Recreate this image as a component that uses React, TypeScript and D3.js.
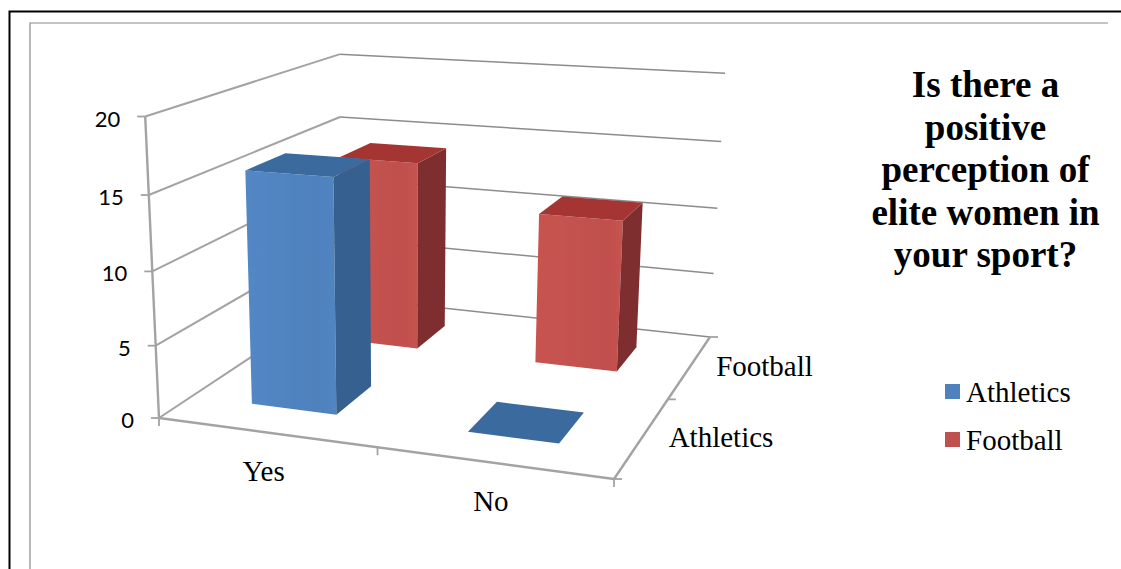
import React from "react";
import * as d3 from "d3";

const categories = ["Yes", "No"];
const seriesNames = ["Athletics", "Football"];
const athletics = [16, 0];
const football = [14, 11];
const valueTicks = [0, 5, 10, 15, 20];
const titleLines = ["Is there a", "positive", "perception of", "elite women in", "your sport?"];
const seriesColors = [
  { front: "#4f81bd", side: "#34618f", top: "#3a6a9e" },
  { front: "#c0504d", side: "#7e2f2d", top: "#a53633" },
];

type P = [number, number];
// Camera: projected floor corners, the vanishing point of the vertical axis and the depth term per value.
const floorCorners: P[] = [[159, 418], [614, 479], [710, 337], [342, 297]];
const verticalVanish: P = [402, 5731];
const zScale = d3.scaleLinear().domain([0, 20]).range([0, -0.0537]);
const heightSkew = 0.025;

function homography(c: P[]) {
  const [[x0, y0], [x1, y1], [x2, y2], [x3, y3]] = c;
  const dx1 = x1 - x2, dx2 = x3 - x2, sx = x0 - x1 + x2 - x3;
  const dy1 = y1 - y2, dy2 = y3 - y2, sy = y0 - y1 + y2 - y3;
  const det = dx1 * dy2 - dx2 * dy1;
  const g = (sx * dy2 - dx2 * sy) / det;
  const h = (dx1 * sy - sx * dy1) / det;
  return (u: number, v: number) => {
    const w = g * u + h * v + 1;
    return {
      w,
      x: ((x1 - x0 + g * x1) * u + (x3 - x0 + h * x3) * v + x0) / w,
      y: ((y1 - y0 + g * y1) * u + (y3 - y0 + h * y3) * v + y0) / w,
    };
  };
}
const floorH = homography(floorCorners);
const uBand = d3.scaleBand<string>().domain(categories).range([0, 1]);
const vBand = d3.scaleBand<string>().domain(seriesNames).range([0, 1]);

function project(u: number, v: number, value: number): P {
  const f = floorH(u, v);
  const c = zScale(value) * (1 + heightSkew * u);
  const d = f.w + c;
  return [(f.x * f.w + c * verticalVanish[0]) / d, (f.y * f.w + c * verticalVanish[1]) / d];
}
const line = d3.line<P>();
const poly = (pts: P[]) => line(pts) + "Z";

const barFrac = 0.2;
const depthFrac = 0.2;
const barOffset = -0.005;

function bars() {
  const out: React.ReactNode[] = [];
  // back series first so the nearer one overlaps it
  [1, 0].forEach((s) => {
    const values = s === 0 ? athletics : football;
    categories.forEach((cat, i) => {
      const uc = uBand(cat)! + uBand.bandwidth() / 2 + barOffset;
      const vc = vBand(seriesNames[s])! + vBand.bandwidth() / 2;
      const u0 = uc - barFrac / 2, u1 = uc + barFrac / 2;
      const v0 = vc - depthFrac / 2, v1 = vc + depthFrac / 2;
      const val = values[i];
      const c = seriesColors[s];
      const key = `${s}-${i}`;
      if (val > 0) {
        out.push(<path key={key + "f"} d={poly([project(u0, v0, 0), project(u1, v0, 0), project(u1, v0, val), project(u0, v0, val)])} fill={`url(#front${s})`} />);
        out.push(<path key={key + "s"} d={poly([project(u1, v0, 0), project(u1, v1, 0), project(u1, v1, val), project(u1, v0, val)])} fill={c.side} />);
      }
      out.push(<path key={key + "t"} d={poly([project(u0, v0, val), project(u1, v0, val), project(u1, v1, val), project(u0, v1, val)])} fill={c.top} />);
    });
  });
  return out;
}

const GRAY = "#a3a3a3";

export default function App() {
  return (
    <svg width={1121} height={569} style={{ position: "absolute", left: 0, top: 0, background: "#fff" }}>
      <defs>
        <filter id="soft" x="-5%" y="-5%" width="110%" height="110%"><feGaussianBlur stdDeviation="0.6" /></filter>
        {seriesColors.map((c, s) => (
          <linearGradient key={s} id={`front${s}`} x1="0" x2="1" y1="0" y2="0">
            <stop offset="0" stopColor={d3.color(c.front)!.brighter(0.12).formatHex()} />
            <stop offset="0.8" stopColor={c.front} />
            <stop offset="1" stopColor={d3.color(c.front)!.brighter(0.08).formatHex()} />
          </linearGradient>
        ))}
      </defs>
      <path d="M9.5,569V11.5H1121" fill="none" stroke="#000" strokeWidth={2} />
      <path d="M30,569V23H1108" fill="none" stroke="#8a8a8a" strokeWidth={1.2} />

      <g filter="url(#soft)">
        {valueTicks.filter((t) => t > 0).map((t) => (
          <g key={t} fill="none">
            <path d={line([project(0, 0, t), project(0, 1, t)])!} stroke={GRAY} strokeWidth={2} />
            <path d={line([project(0, 1, t), project(1, 1, t)])!} stroke="#8c8c8c" strokeWidth={1.5} />
          </g>
        ))}
        <path d={line([project(0, 0, 0), project(0, 1, 0)])!} fill="none" stroke={GRAY} strokeWidth={2} />
        <path d={line([project(0, 1, 0), project(1, 1, 0)])!} fill="none" stroke="#8c8c8c" strokeWidth={1.5} />
        {/* axes */}
        <path d={line([project(0, 0, 0), project(0, 0, 20)])!} fill="none" stroke={GRAY} strokeWidth={2.4} />
        <path d={line([project(0, 0, 0), project(1, 0, 0)])!} fill="none" stroke={GRAY} strokeWidth={2.4} />
        <path d={line([project(1, 0, 0), project(1, 1, 0)])!} fill="none" stroke={GRAY} strokeWidth={2.4} />
        {valueTicks.map((t) => {
          const p = project(0, 0, t);
          return <path key={t} d={`M${p[0] - 8},${p[1]}H${p[0]}`} stroke={GRAY} strokeWidth={1.8} fill="none" />;
        })}
        {[0, 0.5, 1].map((u) => {
          const p = project(u, 0, 0);
          return <path key={u} d={`M${p[0]},${p[1]}v8`} stroke={GRAY} strokeWidth={1.8} fill="none" />;
        })}
        {[0, 0.5, 1].map((v) => {
          const p = project(1, v, 0);
          return <path key={v} d={`M${p[0]},${p[1]}h8`} stroke={GRAY} strokeWidth={1.8} fill="none" />;
        })}
        {bars()}
      </g>

      <g fontFamily="Lato" fontSize={22} fill="#000" textAnchor="end">
        {valueTicks.map((t) => {
          const p = project(0, 0, t);
          return <text key={t} x={p[0] - 25} y={p[1] + 10}>{t}</text>;
        })}
      </g>
      <g fontFamily="'Liberation Serif'" fontSize={29} fill="#000">
        {categories.map((c) => {
          const p = project(uBand(c)! + uBand.bandwidth() / 2, 0, 0);
          return <text key={c} x={p[0] - 2.5} y={p[1] + 48.5} textAnchor="middle">{c}</text>;
        })}
        {seriesNames.map((n) => {
          const p = project(1, vBand(n)! + vBand.bandwidth() / 2, 0);
          return <text key={n} x={p[0] + 26} y={p[1] + 10}>{n}</text>;
        })}
        {seriesNames.map((n, i) => (
          <g key={n}>
            <rect x={945} y={384 + i * 48} width={15} height={15} fill={seriesColors[i].front} />
            <text x={966} y={402 + i * 48}>{n}</text>
          </g>
        ))}
      </g>
      <g fontFamily="'Liberation Serif'" fontWeight="bold" fontSize={37} fill="#000" textAnchor="middle">
        {titleLines.map((l, i) => (
          <text key={l} x={985.5} y={97 + i * 42.5}>{l}</text>
        ))}
      </g>
    </svg>
  );
}
